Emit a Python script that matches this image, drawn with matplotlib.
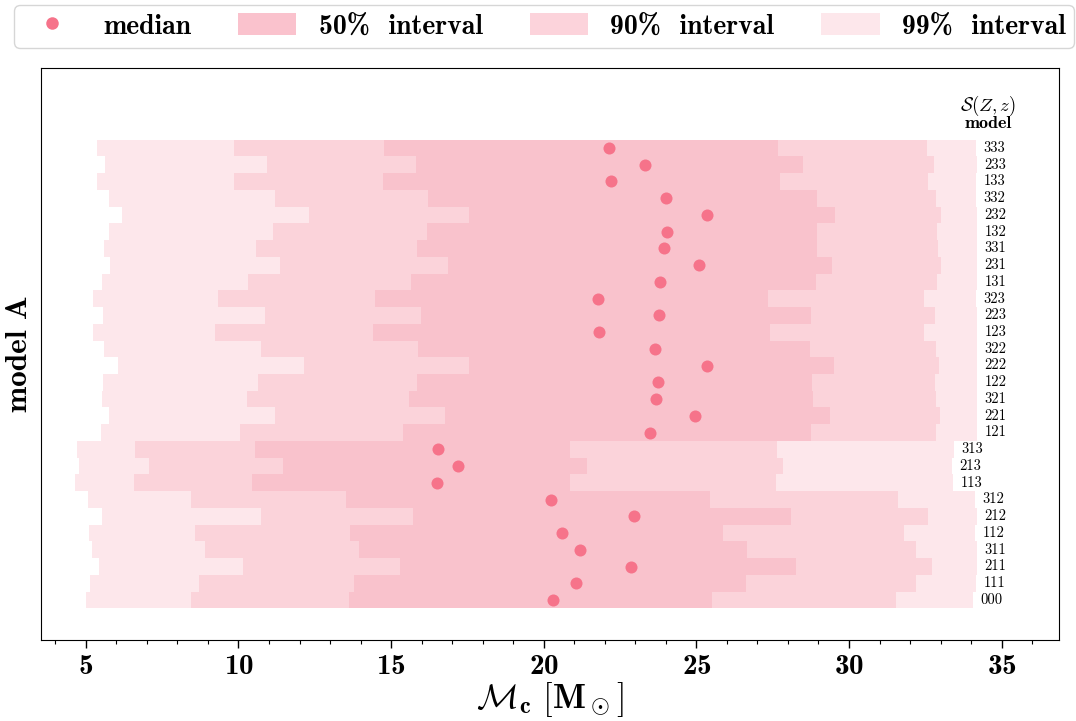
import matplotlib
matplotlib.use("Agg")
import matplotlib.pyplot as plt
from matplotlib.patches import Patch
from matplotlib.lines import Line2D
from matplotlib.ticker import MultipleLocator

plt.rcParams['mathtext.fontset'] = 'cm'
plt.rcParams['axes.formatter.use_mathtext'] = True
plt.rcParams['font.family'] = ['cmb10', 'DejaVu Serif']

models = ['333', '233', '133', '332', '232', '132', '331', '231', '131',
          '323', '223', '123', '322', '222', '122', '321', '221', '121',
          '313', '213', '113', '312', '212', '112', '311', '211', '111', '000']

median = [22.13, 23.32, 22.19, 24.00, 25.35, 24.04, 23.95, 25.09, 23.81,
          21.77, 23.76, 21.81, 23.65, 25.36, 23.73, 23.68, 24.95, 23.49,
          16.54, 17.19, 16.50, 20.25, 22.96, 20.59, 21.20, 22.85, 21.06, 20.31]

lo50 = [14.76, 15.81, 14.73, 16.20, 17.55, 16.17, 15.85, 16.86, 15.65,
        14.47, 15.98, 14.40, 15.88, 17.55, 15.85, 15.58, 16.76, 15.39,
        10.54, 11.45, 10.44, 13.52, 15.71, 13.65, 13.95, 15.29, 13.78, 13.62]
hi50 = [27.67, 28.49, 27.74, 28.95, 29.54, 28.95, 28.95, 29.44, 28.92,
        27.35, 28.75, 27.41, 28.72, 29.51, 28.79, 28.82, 29.38, 28.75,
        20.86, 21.42, 20.86, 25.45, 28.10, 25.87, 26.66, 28.26, 26.62, 25.51]

lo90 = [9.85, 10.93, 9.85, 11.19, 12.30, 11.13, 10.57, 11.36, 10.31,
        9.33, 10.87, 9.23, 10.73, 12.14, 10.64, 10.28, 11.19, 10.05,
        6.60, 7.06, 6.57, 8.44, 10.73, 8.57, 8.90, 10.14, 8.70, 8.44]
hi90 = [32.56, 32.78, 32.59, 32.85, 33.01, 32.88, 32.92, 33.01, 32.88,
        32.46, 32.82, 32.46, 32.85, 32.95, 32.82, 32.85, 32.98, 32.85,
        27.64, 27.84, 27.61, 31.60, 32.59, 31.80, 32.20, 32.72, 32.20, 31.54]

lo99 = [5.36, 5.62, 5.36, 5.75, 6.18, 5.75, 5.59, 5.79, 5.52,
        5.23, 5.56, 5.23, 5.59, 6.05, 5.56, 5.52, 5.75, 5.49,
        4.70, 4.77, 4.64, 5.07, 5.52, 5.10, 5.20, 5.43, 5.13, 5.00]
hi99 = [34.16, 34.19, 34.16, 34.16, 34.19, 34.19, 34.19, 34.19, 34.19,
        34.16, 34.19, 34.19, 34.19, 34.19, 34.19, 34.19, 34.19, 34.19,
        33.44, 33.37, 33.41, 34.13, 34.19, 34.13, 34.19, 34.19, 34.16, 34.06]

base = '#F4718A'
alpha = 0.17
med_color = '#F6738A'

fig = plt.figure(figsize=(10.76, 7.21), dpi=100)
ax = fig.add_axes([41/1076, 1-640/721, (1059-41)/1076, (640-68)/721])

n = len(models)
ypos = [n - 1 - i for i in range(n)]

ax.barh(ypos, [h - l for l, h in zip(lo99, hi99)], left=lo99, height=1.0,
        color=base, alpha=alpha, linewidth=0)
ax.barh(ypos, [h - l for l, h in zip(lo90, hi90)], left=lo90, height=1.0,
        color=base, alpha=alpha, linewidth=0)
ax.barh(ypos, [h - l for l, h in zip(lo50, hi50)], left=lo50, height=1.0,
        color=base, alpha=alpha, linewidth=0)
ax.scatter(median, ypos, s=75, color=med_color, zorder=5, linewidths=0)

for y, m, h in zip(ypos, models, hi99):
    ax.text(h + 0.25, y, m, ha='left', va='center', fontsize=10.5,
            family='cmr10')

ax.text(34.55, 29.5, r'$\mathcal{S}(Z,z)$', ha='center', va='center', fontsize=13.5)
ax.text(34.55, 28.45, 'model', ha='center', va='center', fontsize=13)

ax.set_xlim(3.53, 36.88)
ax.set_ylim(-2.39, 31.78)
ax.set_yticks([])
ax.xaxis.set_major_locator(MultipleLocator(5))
ax.xaxis.set_minor_locator(MultipleLocator(1))
ax.tick_params(axis='x', which='major', labelsize=21, length=6, width=1, pad=4)
ax.tick_params(axis='x', which='minor', length=3, width=0.8)
ax.set_xlabel(r'$\mathcal{M}_\mathbf{c}\ [\mathbf{M}_\odot]$', fontsize=25, labelpad=0)
ax.set_ylabel('model A', fontsize=22.5, labelpad=6)

def comp(k):
    a = 1 - (1 - alpha) ** k
    c = matplotlib.colors.to_rgb(base)
    return tuple(1 - a * (1 - ci) for ci in c)

handles = [
    Line2D([0], [0], marker='o', linestyle='none', markersize=9,
           markerfacecolor=med_color, markeredgewidth=0),
    Patch(facecolor=comp(3)),
    Patch(facecolor=comp(2)),
    Patch(facecolor=comp(1)),
]
labels = ['median', '50%  interval', '90%  interval', '99%  interval']
fig.legend(handles, labels, loc='upper left', ncol=4, mode='expand',
           bbox_to_anchor=(14/1076, 1-48/721, 1060/1076, 43/721),
           fontsize=20, frameon=True, handlelength=2.1, handleheight=0.8,
           handletextpad=0.8, borderpad=0.3, borderaxespad=0, fancybox=True)

fig.savefig('out.png', dpi=100)
